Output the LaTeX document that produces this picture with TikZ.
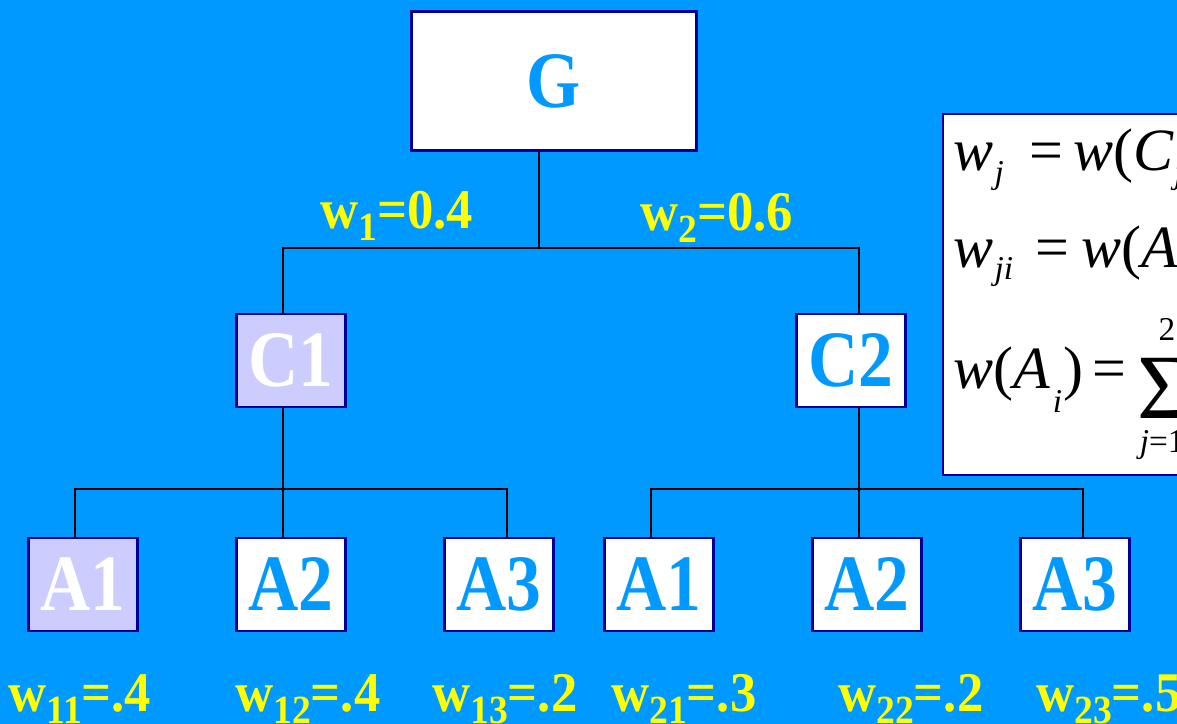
\documentclass[tikz,border=0pt]{standalone}
\usepackage{fontspec}
\usepackage{tikz}
\newfontfamily\slide[FakeStretch=0.87]{Liberation Serif}
\newfontfamily\slidelab[FakeStretch=0.94]{Liberation Serif}
\newfontfamily\eqfont{Liberation Serif}
\definecolor{bgblue}{RGB}{0,153,255}
\definecolor{boxblue}{RGB}{0,0,153}
\definecolor{lavender}{RGB}{204,204,255}
\definecolor{labyellow}{RGB}{255,255,0}
\newcommand{\lo}[1]{\raisebox{-0.22em}{\fontsize{30}{30}\selectfont #1}}
\newcommand{\dn}[2]{\raisebox{-#1}{\fontsize{25}{25}\selectfont\itshape #2}}

\begin{document}
\begin{tikzpicture}[x=0.75pt, y=-0.75pt,
	box/.style={draw=boxblue, line width=1.9pt, fill=white, text=bgblue, inner sep=0pt, minimum width=82pt, minimum height=69.5pt, font=\slide\bfseries\fontsize{60}{60}\selectfont},
	pick/.style={fill=lavender, text=white},
	link/.style={line width=1.5pt},
	wlab/.style={anchor=base west, inner sep=0pt, text=labyellow, font=\slidelab\bfseries\fontsize{42}{42}\selectfont},
	eq/.style={anchor=base west, inner sep=0pt, font=\eqfont\fontsize{45}{45}\selectfont}]
		\useasboundingbox (0,0) rectangle (1177,724);
		\clip (0,0) rectangle (1177,724);
		\fill[bgblue] (0,0) rectangle (1177,724);

		% goal and criteria
		\node[box, minimum width=214pt, minimum height=104.5pt] (g) at (554,81) {G};
		\node[box, pick] (c1) at (291,360.5) {C1};
		\node[box] (c2) at (851,360.5) {C2};

		% alternatives
		\node[box, pick] (a11) at (83,584.5) {A1};
		\node[box] (a12) at (291,584.5) {A2};
		\node[box] (a13) at (499,584.5) {A3};
		\node[box] (a21) at (659,584.5) {A1};
		\node[box] (a22) at (867,584.5) {A2};
		\node[box] (a23) at (1075,584.5) {A3};

		\draw[link] ([xshift=-11.25pt]g.south) -- ++(0,96) coordinate (gj);
		\draw[link] (gj) -| ([xshift=-6pt]c1.north);
		\draw[link] (gj) -| ([xshift=6pt]c2.north);

		\draw[link] ([xshift=-6pt]c1.south) -- ++(0,81) coordinate (c1j);
		\draw[link] (c1j) -| ([xshift=-6pt]a11.north);
		\draw[link] (c1j) -- ([xshift=-6pt]a12.north);
		\draw[link] (c1j) -| ([xshift=6pt]a13.north);

		\draw[link] ([xshift=6pt]c2.south) -- ++(0,81) coordinate (c2j);
		\draw[link] (c2j) -| ([xshift=-6pt]a21.north);
		\draw[link] (c2j) -- ([xshift=-6pt]a22.north);
		\draw[link] (c2j) -| ([xshift=6pt]a23.north);

		% weights
		\node[wlab] (w1) at (320,228) {w\lo{1}=0.4};
		\node[wlab] (w2) at (640,230) {w\lo{2}=0.6};
		\node[wlab] (w11) at (8,711) {w\lo{11}=.4};
		\node[wlab] (w12) at (235,711) {w\lo{12}=.4};
		\node[wlab] (w13) at (432,711) {w\lo{13}=.2};
		\node[wlab] (w21) at (611,711) {w\lo{21}=.3};
		\node[wlab] (w22) at (838,711) {w\lo{22}=.2};
		\node[wlab] (w23) at (1036,711) {w\lo{23}=.5};

		% formulas
		\draw[draw=boxblue, line width=1.9pt, fill=white] (943,114) rectangle (1210,475);
		\node[eq] (f1) at (953,170) {\textit{w}\hspace{1pt}\dn{10pt}{j}\hspace{19pt}=\hspace{8pt}\textit{w}(\textit{C}\dn{10pt}{j})};
		\node[eq] (f2) at (953,267) {\textit{w}\hspace{1pt}\dn{9pt}{ji}\hspace{17pt}=\hspace{9pt}\textit{w}(\textit{A}\dn{10pt}{i}\,|\,\textit{C}\dn{10pt}{j})};
		\node[eq] (f3) at (953,388) {\textit{w}(\textit{A}\hspace{2pt}\dn{18pt}{i}\hspace{1pt})\hspace{7pt}=\hspace{8pt}%
			\makebox[0pt][l]{\hspace{16pt}\raisebox{36pt}{\fontsize{25}{25}\selectfont 2}}%
			\makebox[0pt][l]{\hspace{2pt}\raisebox{-48pt}{\fontsize{25}{25}\selectfont\textit{j}=1}}%
			\raisebox{-22.5pt}{\fontsize{69}{69}\selectfont Σ}\,\textit{w}\dn{10pt}{j}\textit{w}\dn{10pt}{ji}};
	\end{tikzpicture}
\end{document}
